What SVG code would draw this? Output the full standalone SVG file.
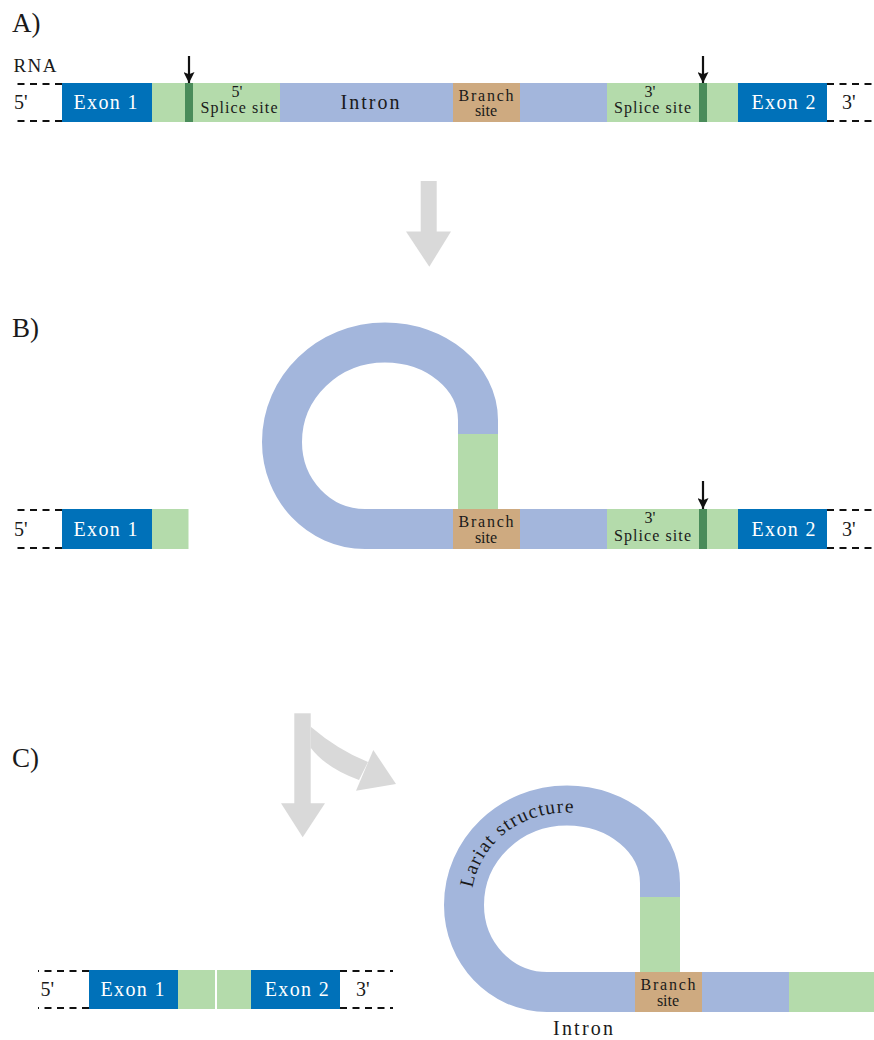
<svg xmlns="http://www.w3.org/2000/svg" width="874" height="1040" viewBox="0 0 874 1040">
<defs>
<style>
.exon{fill:#0071b9}
.grn{fill:#b4dbab}
.dk{fill:#4a8c5a}
.intr{fill:#a3b6dc}
.br{fill:#ceaa80}
.gray{fill:#d9d9d9}
.dash{stroke:#111;stroke-width:2;stroke-dasharray:7 5.5;fill:none}
.t{font-family:"Liberation Serif",serif;fill:#1a1a1a}
.big{font-size:27px}
.lab{font-size:20px}
.sm{font-size:16px}
.w{fill:#ffffff}
.cut{stroke:#111;stroke-width:2.2;fill:none;marker-end:url(#ah)}
</style>
<marker id="ah" viewBox="0 0 10 10" refX="10" refY="5" markerWidth="5.5" markerHeight="5" orient="auto" markerUnits="strokeWidth">
<path d="M0,0 L10,5 L0,10 L2,5 z" fill="#111"/>
</marker>
<path id="lasso" d="M478 434 L478 420 C478 377 436 342.5 385 342.5 C328 342.5 282 387 282 442 C282 490 319 529 365 529 L455 529" fill="none" stroke="#a3b6dc" stroke-width="40"/>
<path id="lariatText" d="M471 960 L471 905 C471 853 512 812.5 567 812.5 C614 812.5 653 846 653 890"/>
</defs>

<g id="labels">
<text class="t big" x="12" y="32">A)</text>
<text class="t big" x="12" y="337">B)</text>
<text class="t big" x="12" y="767">C)</text>
</g>

<g id="panelA">
<text class="t" x="13.5" y="72" font-size="19" textLength="43">RNA</text>
<line class="dash" x1="62" y1="84" x2="12" y2="84"/>
<line class="dash" x1="62" y1="121" x2="12" y2="121"/>
<text class="t lab" x="14" y="109">5'</text>
<rect class="exon" x="62" y="83" width="90" height="39"/>
<text class="t lab w" x="105.5" y="109" text-anchor="middle" textLength="64">Exon 1</text>
<rect class="grn" x="152" y="83" width="128" height="39"/>
<rect class="dk" x="185" y="83" width="8" height="39"/>
<text class="t sm" x="237" y="97" text-anchor="middle">5'</text>
<text class="t sm" x="239" y="113" text-anchor="middle" textLength="77">Splice site</text>
<rect class="intr" x="280" y="83" width="173" height="39"/>
<text class="t lab" x="370" y="109" text-anchor="middle" textLength="59">Intron</text>
<rect class="br" x="453" y="83" width="67" height="39"/>
<text class="t sm" x="486" y="100.5" text-anchor="middle" textLength="55">Branch</text>
<text class="t sm" x="486" y="116" text-anchor="middle">site</text>
<rect class="intr" x="520" y="83" width="87" height="39"/>
<rect class="grn" x="607" y="83" width="131" height="39"/>
<rect class="dk" x="699" y="83" width="8" height="39"/>
<text class="t sm" x="650" y="97" text-anchor="middle">3'</text>
<text class="t sm" x="652.5" y="113" text-anchor="middle" textLength="77">Splice site</text>
<rect class="exon" x="738" y="83" width="89" height="39"/>
<text class="t lab w" x="783.5" y="109" text-anchor="middle" textLength="64">Exon 2</text>
<line class="dash" x1="827" y1="84" x2="874" y2="84"/>
<line class="dash" x1="827" y1="121" x2="874" y2="121"/>
<text class="t lab" x="842" y="109">3'</text>
</g>

<g id="connectors">
<line class="cut" x1="189" y1="56" x2="189" y2="83"/>
<line class="cut" x1="703" y1="56" x2="703" y2="83"/>
<line class="cut" x1="703" y1="481" x2="703" y2="509"/>
</g>

<g id="arrowAB">
<rect class="gray" x="420.7" y="181" width="16" height="51"/>
<polygon class="gray" points="406,231.5 451,231.5 429.3,266.7"/>
</g>

<g id="panelB">
<line class="dash" x1="62" y1="510" x2="12" y2="510"/>
<line class="dash" x1="62" y1="548" x2="12" y2="548"/>
<text class="t lab" x="14" y="536">5'</text>
<rect class="exon" x="62" y="509" width="90" height="40"/>
<text class="t lab w" x="105.5" y="536" text-anchor="middle" textLength="64">Exon 1</text>
<rect class="grn" x="152" y="509" width="36.5" height="40"/>
<use href="#lasso"/>
<rect class="grn" x="458" y="434" width="40" height="75"/>
<rect class="br" x="453" y="509" width="67" height="40"/>
<text class="t sm" x="486" y="527" text-anchor="middle" textLength="55">Branch</text>
<text class="t sm" x="486" y="542.5" text-anchor="middle">site</text>
<rect class="intr" x="520" y="509" width="87" height="40"/>
<rect class="grn" x="607" y="509" width="131" height="40"/>
<rect class="dk" x="699" y="509" width="8" height="40"/>
<text class="t sm" x="650" y="522.5" text-anchor="middle">3'</text>
<text class="t sm" x="652.5" y="540.5" text-anchor="middle" textLength="77">Splice site</text>
<rect class="exon" x="738" y="509" width="89" height="40"/>
<text class="t lab w" x="783.5" y="536" text-anchor="middle" textLength="64">Exon 2</text>
<line class="dash" x1="827" y1="510" x2="874" y2="510"/>
<line class="dash" x1="827" y1="548" x2="874" y2="548"/>
<text class="t lab" x="842" y="536">3'</text>
</g>

<g id="arrowsBC">
<rect class="gray" x="294.3" y="713.3" width="16.4" height="91"/>
<polygon class="gray" points="281,803.3 325,803.3 302.7,837.3"/>
<path class="gray" d="M310.7 726.7 Q338 750 368 762 L359 780 Q326 768 310.7 747.7 Z"/>
<polygon class="gray" points="373.3,750 396,784 356,790.7"/>
</g>

<g id="panelC-mRNA">
<line class="dash" x1="89" y1="971" x2="38" y2="971"/>
<line class="dash" x1="89" y1="1008" x2="38" y2="1008"/>
<text class="t lab" x="40.5" y="996">5'</text>
<rect class="exon" x="89" y="970" width="89" height="39"/>
<text class="t lab w" x="132.5" y="996" text-anchor="middle" textLength="64">Exon 1</text>
<rect class="grn" x="178" y="970" width="37" height="39"/>
<rect class="grn" x="217" y="970" width="34" height="39"/>
<rect class="exon" x="251" y="970" width="89" height="39"/>
<text class="t lab w" x="296.7" y="996" text-anchor="middle" textLength="64">Exon 2</text>
<line class="dash" x1="340" y1="971" x2="393" y2="971"/>
<line class="dash" x1="340" y1="1008" x2="393" y2="1008"/>
<text class="t lab" x="356" y="996">3'</text>
</g>

<g id="panelC-lariat">
<use href="#lasso" transform="translate(182,463)"/>
<rect class="grn" x="640" y="897" width="40" height="75"/>
<rect class="br" x="635" y="972" width="67" height="40"/>
<text class="t sm" x="668" y="990" text-anchor="middle" textLength="55">Branch</text>
<text class="t sm" x="668" y="1005.5" text-anchor="middle">site</text>
<rect class="intr" x="702" y="972" width="87" height="40"/>
<rect class="grn" x="789" y="972" width="85" height="40"/>
<text class="t" font-size="19.5"><textPath href="#lariatText" startOffset="72" textLength="138">Lariat structure</textPath></text>
<text class="t lab" x="583" y="1035" text-anchor="middle" textLength="60">Intron</text>
</g>
</svg>
